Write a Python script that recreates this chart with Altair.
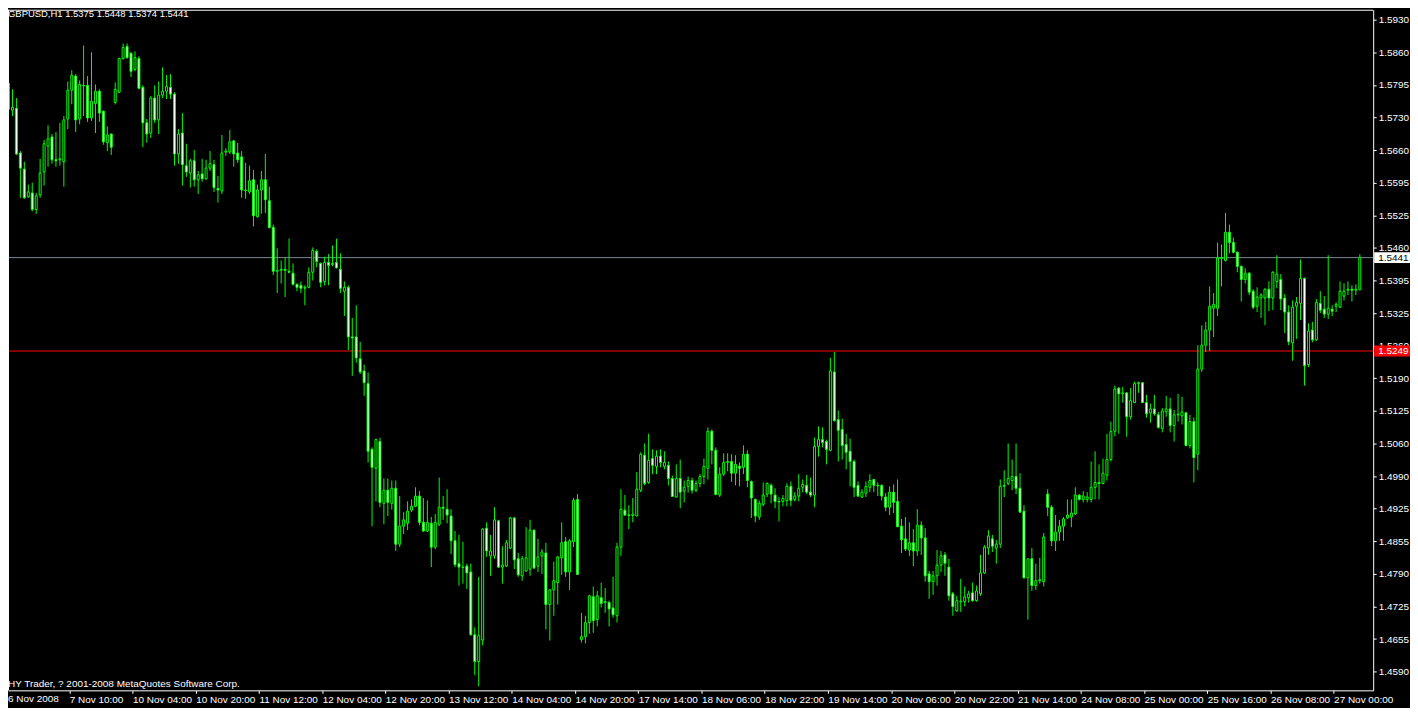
import altair as alt
import pandas as pd

# ---------------- data (prices in pips, 1/10000) ----------------
opens = [
    15799, 15744, 15748, 15656, 15623, 15566, 15574, 15540, 15570, 15617,
    15670, 15689, 15642, 15642, 15638, 15726, 15785, 15814, 15726, 15795,
    15795, 15728, 15758, 15783, 15742, 15677, 15695, 15760, 15781, 15850,
    15875, 15861, 15828, 15850, 15791, 15718, 15697, 15769, 15724, 15775,
    15783, 15791, 15777, 15654, 15697, 15630, 15615, 15640, 15601, 15613,
    15603, 15625, 15632, 15583, 15578, 15658, 15658, 15681, 15656, 15648,
    15580, 15576, 15601, 15525, 15580, 15601, 15558, 15503, 15413, 15415,
    15417, 15413, 15409, 15386, 15384, 15378, 15380, 15411, 15454, 15429,
    15392, 15431, 15427, 15431, 15417, 15372, 15380, 15278, 15278, 15233,
    15208, 15182, 15047, 15008, 15063, 14936, 14963, 14936, 14967, 14852,
    14889, 14895, 14922, 14930, 14951, 14897, 14879, 14895, 14846, 14893,
    14928, 14924, 14910, 14859, 14812, 14805, 14807, 14795, 14666, 14611,
    14655, 14885, 14828, 14828, 14900, 14805, 14807, 14844, 14906, 14822,
    14787, 14797, 14801, 14881, 14807, 14828, 14834, 14728, 14758, 14773,
    14824, 14857, 14795, 14857, 14944, 14656, 14662, 14691, 14744, 14697,
    14742, 14732, 14732, 14721, 14705, 14846, 14922, 14912, 14911, 14910,
    14963, 15035, 14979, 15028, 15012, 15033, 15012, 15014, 14987, 14949,
    14987, 14961, 14971, 14983, 14963, 14977, 14991, 15008, 15084, 15045,
    14953, 14996, 15020, 15022, 14998, 15012, 15010, 15037, 14981, 14944,
    14908, 14934, 14955, 14973, 14953, 14940, 14940, 14942, 14971, 14944,
    14951, 14969, 14973, 14959, 14953, 15053, 15067, 15063, 15045, 15206,
    15108, 15088, 15057, 15043, 15022, 14973, 14949, 14957, 14969, 14985,
    14973, 14973, 14949, 14928, 14959, 14940, 14889, 14863, 14840, 14855,
    14838, 14891, 14865, 14791, 14775, 14787, 14809, 14830, 14805, 14750,
    14715, 14734, 14734, 14742, 14752, 14736, 14750, 14793, 14844, 14863,
    14844, 14852, 14971, 14977, 14983, 14991, 14967, 14920, 14783, 14822,
    14767, 14777, 14775, 14955, 14928, 14859, 14877, 14889, 14906, 14908,
    14914, 14953, 14944, 14944, 14944, 14969, 14979, 14977, 14994, 15026,
    15084, 15173, 15161, 15163, 15114, 15143, 15182, 15184, 15143, 15122,
    15130, 15118, 15090, 15124, 15130, 15096, 15118, 15116, 15122, 15055,
    15104, 15037, 15212, 15261, 15292, 15337, 15337, 15439, 15435, 15493,
    15472, 15452, 15423, 15396, 15409, 15372, 15341, 15358, 15358, 15376,
    15358, 15392, 15396, 15358, 15329, 15266, 15341, 15347, 15398, 15221,
    15292, 15272, 15347, 15335, 15325, 15335, 15341, 15339, 15362, 15374,
    15376, 15374, 15375,
]
highs = [
    15805, 15787, 15769, 15660, 15638, 15591, 15595, 15574, 15644, 15683,
    15713, 15695, 15699, 15718, 15732, 15803, 15826, 15818, 15805, 15877,
    15814, 15863, 15797, 15787, 15743, 15711, 15696, 15801, 15852, 15881,
    15881, 15863, 15865, 15855, 15795, 15726, 15773, 15795, 15803, 15832,
    15816, 15818, 15781, 15705, 15738, 15675, 15644, 15662, 15619, 15644,
    15642, 15660, 15642, 15609, 15693, 15666, 15703, 15682, 15677, 15660,
    15636, 15630, 15621, 15591, 15619, 15654, 15587, 15509, 15460, 15435,
    15441, 15480, 15429, 15388, 15392, 15384, 15421, 15462, 15458, 15431,
    15443, 15448, 15466, 15480, 15450, 15392, 15384, 15317, 15343, 15268,
    15221, 15205, 15051, 15069, 15071, 14987, 14987, 14983, 14983, 14951,
    14918, 14940, 14944, 14969, 14961, 14947, 14942, 14908, 14914, 14989,
    14951, 14965, 14924, 14879, 14871, 14857, 14812, 14812, 14681, 14785,
    14885, 14897, 14871, 14928, 14902, 14848, 14861, 14908, 14908, 14834,
    14828, 14887, 14902, 14882, 14863, 14842, 14855, 14760, 14816, 14828,
    14897, 14867, 14863, 14947, 14955, 14711, 14705, 14748, 14765, 14756,
    14773, 14762, 14736, 14785, 14855, 14965, 14953, 14932, 14947, 15000,
    15041, 15059, 15079, 15047, 15045, 15047, 15043, 15022, 14993, 15016,
    15026, 14983, 14991, 14989, 14983, 14996, 15028, 15092, 15088, 15051,
    15010, 15039, 15039, 15037, 15035, 15020, 15055, 15045, 14983, 14946,
    14942, 14979, 14979, 14977, 14967, 14949, 14953, 14977, 14981, 14959,
    14996, 14985, 14994, 14989, 15071, 15094, 15092, 15067, 15235, 15247,
    15127, 15110, 15079, 15069, 15026, 14981, 14965, 14981, 14996, 14986,
    14979, 14975, 14957, 14971, 14975, 14985, 14904, 14908, 14897, 14883,
    14924, 14899, 14885, 14797, 14797, 14840, 14838, 14836, 14822, 14754,
    14746, 14781, 14765, 14756, 14773, 14767, 14830, 14850, 14881, 14871,
    14861, 14985, 15004, 15059, 15026, 15059, 14998, 14932, 14822, 14844,
    14812, 14824, 14875, 14965, 14932, 14912, 14902, 14908, 14944, 14944,
    14969, 14955, 14961, 14959, 15022, 15043, 15016, 15028, 15079, 15104,
    15178, 15174, 15175, 15165, 15173, 15186, 15186, 15185, 15159, 15141,
    15159, 15124, 15132, 15157, 15153, 15128, 15161, 15155, 15124, 15118,
    15112, 15261, 15302, 15309, 15382, 15368, 15472, 15468, 15533, 15509,
    15482, 15454, 15425, 15419, 15411, 15376, 15380, 15368, 15378, 15392,
    15413, 15446, 15407, 15366, 15343, 15353, 15360, 15437, 15400, 15306,
    15309, 15356, 15372, 15362, 15446, 15343, 15349, 15392, 15388, 15392,
    15384, 15386, 15448,
]
lows = [
    15728, 15732, 15652, 15564, 15562, 15564, 15536, 15531, 15564, 15589,
    15628, 15634, 15628, 15630, 15587, 15705, 15756, 15699, 15715, 15732,
    15720, 15722, 15697, 15720, 15673, 15660, 15652, 15756, 15779, 15848,
    15850, 15812, 15824, 15787, 15668, 15677, 15687, 15718, 15695, 15769,
    15767, 15767, 15630, 15634, 15589, 15607, 15585, 15587, 15572, 15597,
    15601, 15619, 15576, 15554, 15572, 15650, 15654, 15628, 15636, 15564,
    15562, 15572, 15505, 15523, 15531, 15533, 15501, 15405, 15368, 15388,
    15360, 15409, 15384, 15372, 15368, 15343, 15378, 15394, 15421, 15380,
    15384, 15384, 15423, 15419, 15368, 15321, 15251, 15198, 15225, 15202,
    15157, 15020, 14889, 14940, 14928, 14893, 14910, 14923, 14838, 14846,
    14873, 14881, 14918, 14928, 14891, 14877, 14877, 14805, 14842, 14889,
    14902, 14895, 14832, 14805, 14767, 14771, 14760, 14664, 14583, 14560,
    14644, 14826, 14787, 14822, 14803, 14771, 14805, 14842, 14801, 14785,
    14777, 14796, 14787, 14801, 14795, 14791, 14677, 14654, 14705, 14728,
    14789, 14785, 14758, 14846, 14789, 14650, 14648, 14668, 14670, 14683,
    14722, 14711, 14683, 14701, 14691, 14828, 14910, 14883, 14897, 14909,
    14959, 14973, 14976, 14996, 14996, 15010, 15006, 14973, 14949, 14948,
    14926, 14938, 14958, 14956, 14959, 14969, 14975, 14985, 15016, 14953,
    14949, 14992, 15002, 14980, 14973, 14971, 14996, 14969, 14906, 14897,
    14902, 14930, 14949, 14936, 14926, 14899, 14930, 14930, 14930, 14940,
    14940, 14959, 14955, 14949, 14928, 15032, 15051, 15016, 15043, 15104,
    15022, 15026, 15006, 14971, 14949, 14949, 14947, 14949, 14959, 14959,
    14951, 14942, 14920, 14912, 14916, 14887, 14834, 14838, 14828, 14807,
    14828, 14830, 14775, 14740, 14748, 14767, 14795, 14787, 14736, 14705,
    14713, 14713, 14724, 14732, 14734, 14734, 14746, 14791, 14830, 14836,
    14812, 14844, 14949, 14973, 14963, 14955, 14916, 14781, 14697, 14756,
    14758, 14771, 14765, 14910, 14848, 14838, 14859, 14859, 14904, 14887,
    14912, 14942, 14938, 14938, 14938, 14944, 14944, 14975, 14983, 15022,
    15074, 15079, 15143, 15073, 15108, 15142, 15163, 15143, 15112, 15102,
    15116, 15090, 15082, 15114, 15082, 15063, 15104, 15098, 15053, 15049,
    14979, 15004, 15206, 15247, 15249, 15278, 15321, 15382, 15433, 15450,
    15450, 15411, 15351, 15388, 15364, 15335, 15329, 15317, 15302, 15331,
    15333, 15378, 15333, 15286, 15261, 15229, 15274, 15313, 15178, 15216,
    15267, 15270, 15327, 15317, 15315, 15321, 15329, 15338, 15353, 15364,
    15351, 15364, 15374,
]
closes = [
    15746, 15750, 15654, 15625, 15564, 15576, 15540, 15568, 15615, 15675,
    15685, 15642, 15640, 15644, 15724, 15785, 15816, 15724, 15797, 15794,
    15728, 15762, 15783, 15738, 15679, 15693, 15668, 15787, 15850, 15873,
    15852, 15824, 15852, 15789, 15718, 15695, 15769, 15724, 15775, 15783,
    15793, 15777, 15654, 15695, 15632, 15617, 15640, 15601, 15611, 15603,
    15625, 15634, 15585, 15580, 15656, 15660, 15679, 15654, 15642, 15580,
    15579, 15599, 15527, 15580, 15601, 15560, 15503, 15413, 15415, 15417,
    15415, 15411, 15386, 15380, 15378, 15380, 15411, 15456, 15433, 15390,
    15431, 15425, 15429, 15420, 15378, 15380, 15278, 15276, 15235, 15206,
    15184, 15043, 15010, 15067, 14938, 14963, 14938, 14967, 14852, 14889,
    14902, 14920, 14930, 14951, 14897, 14879, 14897, 14846, 14897, 14928,
    14926, 14912, 14859, 14810, 14805, 14804, 14793, 14666, 14611, 14664,
    14883, 14838, 14838, 14902, 14805, 14809, 14855, 14906, 14820, 14789,
    14822, 14824, 14881, 14803, 14826, 14836, 14728, 14758, 14777, 14826,
    14855, 14795, 14859, 14942, 14790, 14662, 14691, 14746, 14695, 14746,
    14730, 14734, 14719, 14707, 14846, 14924, 14912, 14911, 14914, 14965,
    15037, 14977, 15024, 15014, 15033, 15020, 15020, 14987, 14950, 14987,
    14959, 14969, 14983, 14963, 14977, 14991, 15012, 15084, 15045, 14954,
    14996, 15020, 15022, 14998, 15016, 15008, 15037, 14983, 14947, 14910,
    14936, 14953, 14977, 14955, 14940, 14939, 14946, 14971, 14942, 14951,
    14967, 14975, 14959, 14953, 15053, 15067, 15061, 15047, 15208, 15106,
    15086, 15055, 15041, 15022, 14969, 14951, 14959, 14971, 14983, 14973,
    14972, 14951, 14928, 14959, 14938, 14888, 14861, 14842, 14855, 14838,
    14891, 14865, 14787, 14775, 14787, 14809, 14828, 14813, 14746, 14724,
    14736, 14735, 14744, 14750, 14736, 14756, 14793, 14846, 14869, 14848,
    14852, 14971, 14973, 14987, 14991, 14967, 14918, 14783, 14822, 14767,
    14777, 14779, 14867, 14928, 14859, 14877, 14889, 14904, 14912, 14916,
    14953, 14944, 14951, 14949, 14969, 14979, 14977, 14998, 15026, 15084,
    15171, 15161, 15163, 15114, 15147, 15182, 15184, 15143, 15120, 15130,
    15120, 15092, 15126, 15130, 15096, 15118, 15119, 15124, 15055, 15104,
    15030, 15212, 15261, 15292, 15341, 15345, 15441, 15441, 15493, 15472,
    15452, 15423, 15396, 15409, 15370, 15339, 15360, 15364, 15376, 15358,
    15411, 15407, 15356, 15329, 15268, 15339, 15349, 15398, 15219, 15290,
    15272, 15349, 15333, 15325, 15337, 15331, 15345, 15372, 15372, 15376,
    15374, 15376, 15441,
]

time_labels = [
    "6 Nov 2008", "7 Nov 10:00", "10 Nov 04:00", "10 Nov 20:00", "11 Nov 12:00",
    "12 Nov 04:00", "12 Nov 20:00", "13 Nov 12:00", "14 Nov 04:00", "14 Nov 20:00",
    "17 Nov 14:00", "18 Nov 06:00", "18 Nov 22:00", "19 Nov 14:00", "20 Nov 06:00",
    "20 Nov 22:00", "21 Nov 14:00", "24 Nov 08:00", "25 Nov 00:00", "25 Nov 16:00",
    "26 Nov 08:00", "27 Nov 00:00",
]
bars_per_label = 16

price_tick_values = [
    1.5930, 1.5863, 1.5796, 1.5729, 1.5662, 1.5595, 1.5528, 1.5461, 1.5394, 1.5327,
    1.5260, 1.5193, 1.5126, 1.5059, 1.4992, 1.4925, 1.4858, 1.4791, 1.4724, 1.4657,
    1.4590, 1.4523,
]
price_tick_labels = [
    "1.5930", "1.5860", "1.5795", "1.5730", "1.5660", "1.5595", "1.5525", "1.5460",
    "1.5395", "1.5325", "1.5260", "1.5190", "1.5125", "1.5060", "1.4990", "1.4925",
    "1.4855", "1.4790", "1.4725", "1.4655", "1.4590", "1.4525",
]

bid_price = 1.5441
level_price = 1.5249

title_text = "GBPUSD,H1  1.5375 1.5448 1.5374 1.5441"
footer_text = "HY Trader, ? 2001-2008 MetaQuotes Software Corp."

# ---------------- layout / style ----------------
W, H = 1372, 684
PX_PER_BAR = 4
PX_PER_UNIT = 4890.0
GREEN = "#00ff00"
FONT = "Liberation Sans"

n = len(closes)
df = pd.DataFrame({
    "i": list(range(n)),
    "open": [v / 10000 for v in opens],
    "high": [v / 10000 for v in highs],
    "low": [v / 10000 for v in lows],
    "close": [v / 10000 for v in closes],
})

x0 = 1.125
x_scale = alt.Scale(domain=[x0, x0 + W / PX_PER_BAR], nice=False, zero=False)
y_top = 1.5930 + 10 / PX_PER_UNIT
y_bottom = 1.5930 - (H - 10) / PX_PER_UNIT
y_scale = alt.Scale(domain=[y_bottom, y_top], nice=False, zero=False)

x_label_expr = "[" + ",".join("'%s'" % t for t in time_labels) + "][round(datum.value / %d)]" % bars_per_label
y_label_expr = "[" + ",".join("'%s'" % t for t in price_tick_labels) + "][round((1.5930 - datum.value) / 0.0067)]"

x_axis = alt.Axis(
    values=[k * bars_per_label for k in range(1, len(time_labels))],
    labelExpr=x_label_expr, title=None, grid=False,
    domainColor="white", domainWidth=1, tickColor="white", tickSize=3, tickWidth=1,
    tickOffset=-2.5, labelOffset=0,
    labelColor="white", labelFont=FONT, labelFontSize=10, labelAlign="left",
    labelBaseline="top", labelPadding=1, labelOverlap=False, labelFlush=False,
    labelBound=False,
)
y_axis = alt.Axis(
    orient="right", values=price_tick_values, labelExpr=y_label_expr, title=None,
    grid=False, domainColor="white", domainWidth=1, tickColor="white", tickSize=3,
    tickWidth=1, labelColor="white", labelFont=FONT, labelFontSize=10,
    labelPadding=2, labelOverlap=False, labelFlush=False, labelBound=False,
)

X = alt.X("i:Q", scale=x_scale, axis=x_axis)

base = alt.Chart(df)
wicks = base.mark_rule(color=GREEN, strokeWidth=1, clip=True).encode(
    x=X,
    y=alt.Y("low:Q", scale=y_scale, axis=y_axis),
    y2="high:Q",
)
bodies = base.mark_bar(size=2, stroke=GREEN, strokeWidth=1, clip=True).encode(
    x=X,
    y=alt.Y("open:Q", scale=y_scale, axis=y_axis),
    y2="close:Q",
    fill=alt.condition("datum.close > datum.open", alt.value("black"), alt.value("white")),
)


def level_layers(price, line_color, box_color, text_color):
    d = pd.DataFrame({"price": [price]})
    Y = alt.Y("price:Q", scale=y_scale, axis=y_axis)
    line = alt.Chart(d).mark_rule(strokeWidth=1, color=line_color).encode(
        y=Y, x=alt.value(0), x2=alt.value(W)
    )
    box = alt.Chart(d).mark_tick(thickness=11, size=36, opacity=1, color=box_color).encode(
        y=Y, x=alt.value(W + 19)
    )
    txt = alt.Chart(d).mark_text(
        align="left", baseline="middle", font=FONT, fontSize=10, color=text_color
    ).encode(y=Y, x=alt.value(W + 5), text=alt.Text("price:Q", format=".4f"))
    return line, box, txt


bid_line, bid_box, bid_txt = level_layers(bid_price, "#778899", "#ffffff", "#000000")
lvl_line, lvl_box, lvl_txt = level_layers(level_price, "#ff0000", "#ff0000", "#ffffff")

title = alt.Chart(pd.DataFrame({"t": [title_text]})).mark_text(
    align="left", baseline="alphabetic", font=FONT, fontSize=9.5, color="white"
).encode(x=alt.value(0), y=alt.value(7), text="t:N")

footer = alt.Chart(pd.DataFrame({"t": [footer_text]})).mark_text(
    align="left", baseline="alphabetic", font=FONT, fontSize=10, color="white"
).encode(x=alt.value(0), y=alt.value(H - 3), text="t:N")

first_label = alt.Chart(pd.DataFrame({"t": [time_labels[0]]})).mark_text(
    align="left", baseline="top", font=FONT, fontSize=10, color="white"
).encode(x=alt.value(0), y=alt.value(H + 4), text="t:N")

frame_df = pd.DataFrame({"a": [0]})
frame_left = alt.Chart(frame_df).mark_rule(color="white", strokeWidth=1).encode(
    x=alt.value(0.5), y=alt.value(0), y2=alt.value(H)
)
frame_top = alt.Chart(frame_df).mark_rule(color="white", strokeWidth=1).encode(
    y=alt.value(0.5), x=alt.value(0), x2=alt.value(W)
)

chart = alt.layer(
    bid_line, lvl_line, wicks, bodies, frame_left, frame_top,
    bid_box, lvl_box, bid_txt, lvl_txt, title, footer, first_label
).properties(
    width=W, height=H,
    padding={"left": 0, "top": 0, "right": 37, "bottom": 16},
    autosize=alt.AutoSizeParams(type="none"),
    background="black",
).configure_view(stroke=None)

chart.save("out.html", embed_options={"renderer": "svg", "actions": False})
